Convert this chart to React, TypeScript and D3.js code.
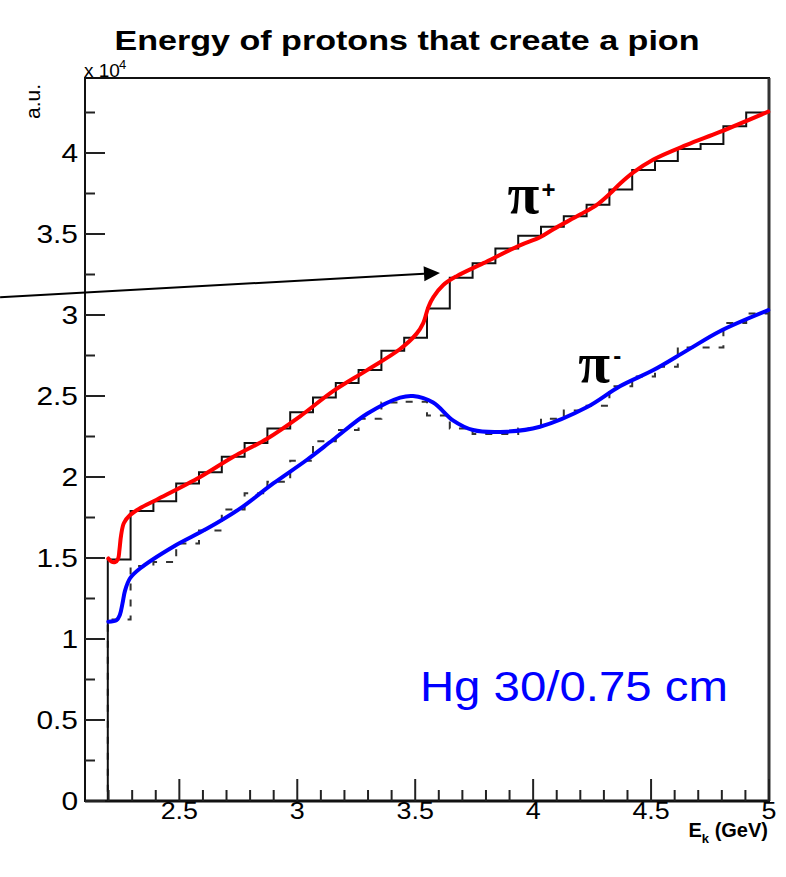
import React from "react";
import * as d3 from "d3";

// Histogram binning: 30 equal bins between 2.1 and 5.0 GeV
const histLow = 2.1;
const histHigh = 5.0;
const histBins = 30;

// Counts per bin (first bin is empty)
const piPlusCounts = [
  0, 14900, 17900, 18500, 19600, 20300, 21250, 22100, 23000, 24000,
  24900, 25800, 26600, 27800, 28600, 30400, 32300, 33200, 34100, 34900,
  35450, 36100, 36800, 37750, 38950, 39500, 40250, 40550, 41650, 42500,
];
const piMinusCounts = [
  0, 11200, 14500, 14750, 15900, 16700, 18000, 19000, 19700, 21000,
  22200, 22900, 23600, 24600, 24650, 23800, 23000, 22650, 22650, 23000,
  23600, 24100, 24400, 25600, 26200, 26800, 28000, 28000, 29500, 30100,
];

// Smooth fit curves (kinetic energy in GeV, counts)
const piPlusFitE = [
  2.199, 2.213, 2.227, 2.24, 2.246, 2.253, 2.265, 2.291, 2.333, 2.404,
  2.588, 2.729, 2.87, 3.012, 3.152, 3.296, 3.436, 3.506, 3.534, 3.556,
  3.577, 3.619, 3.676, 3.789, 3.944, 4.029, 4.086, 4.199, 4.27, 4.326,
  4.368, 4.425, 4.51, 4.651, 4.792, 4.997,
];
const piPlusFitCounts = [
  14970, 14770, 14750, 14940, 15500, 16400, 17160, 17650, 18070, 18600,
  20000, 21250, 22350, 23750, 25300, 26600, 27900, 28850, 29500, 30500,
  31100, 31850, 32400, 33200, 34300, 34800, 35300, 36200, 36800, 37500,
  38100, 38800, 39600, 40500, 41300, 42550,
];
const piMinusFitE = [
  2.199, 2.234, 2.248, 2.259, 2.27, 2.291, 2.333, 2.474, 2.616, 2.757,
  2.898, 3.04, 3.152, 3.296, 3.436, 3.491, 3.576, 3.66, 3.745, 3.889,
  4.029, 4.227, 4.368, 4.51, 4.651, 4.792, 4.997,
];
const piMinusFitCounts = [
  11070, 11170, 11500, 12200, 13000, 13750, 14350, 15700, 16800, 18050,
  19600, 21050, 22300, 23900, 24900, 25000, 24600, 23500, 22900, 22800,
  23100, 24300, 25600, 26600, 27800, 29000, 30300,
];

// Axis ticks
const xMajorTicks = [2.5, 3, 3.5, 4, 4.5, 5];
const xTickLabels = ["2.5", "3", "3.5", "4", "4.5", "5"];
const yMajorTicks = [0, 5000, 10000, 15000, 20000, 25000, 30000, 35000, 40000];
const yTickLabels = ["0", "0.5", "1", "1.5", "2", "2.5", "3", "3.5", "4"];

// Annotation anchors (data units)
const arrowFrom = [1.74, 31100];
const arrowTo = [3.605, 32600];

const W = 786;
const H = 877;
const frame = { left: 85, right: 769, top: 78, bottom: 801 };

const sans = "'Liberation Sans', Arial, Helvetica, sans-serif";
const serif = "'Liberation Serif', 'Times New Roman', serif";

export default function App() {
  const x = d3.scaleLinear().domain([histLow, histHigh]).range([frame.left, frame.right]);
  const y = d3.scaleLinear().domain([0, 44630]).range([frame.bottom, frame.top]);

  const edges = d3.range(histBins + 1).map((i) => histLow + (i * (histHigh - histLow)) / histBins);

  const stepPath = (counts: number[]) => {
    const pts: [number, number][] = counts.map((c, i) => [edges[i], c]);
    pts.push([edges[histBins], 0]);
    return d3
      .line<[number, number]>()
      .x((d) => x(d[0]))
      .y((d) => y(d[1]))
      .curve(d3.curveStepAfter)(pts) as string;
  };

  const fitPath = (es: number[], cs: number[]) =>
    d3
      .line<number>()
      .x((_, i) => x(es[i]))
      .y((d) => y(d))
      .curve(d3.curveCatmullRom.alpha(0.5))(cs) as string;

  const xMinor = d3
    .range(22, 50)
    .map((v) => v / 10)
    .filter((v) => !xMajorTicks.some((m) => Math.abs(m - v) < 1e-6));
  const yMinor = d3.range(2500, 44630, 5000);

  const ax = x(arrowFrom[0]);
  const ay = y(arrowFrom[1]);
  const bx = x(arrowTo[0]);
  const by = y(arrowTo[1]);
  const ang = Math.atan2(by - ay, bx - ax);
  const headLen = 16;
  const headHalf = 7.5;
  const hx = bx - headLen * Math.cos(ang);
  const hy = by - headLen * Math.sin(ang);
  const head = [
    [bx, by],
    [hx - headHalf * Math.sin(ang), hy + headHalf * Math.cos(ang)],
    [hx + headHalf * Math.sin(ang), hy - headHalf * Math.cos(ang)],
  ]
    .map((p) => p.join(","))
    .join(" ");

  const piPlusX = x(3.9);
  const piPlusY = y(36300);
  const piMinusX = x(4.2);
  const piMinusY = y(25860);

  return (
    <svg
      width={W}
      height={H}
      style={{ position: "absolute", left: 0, top: 0, display: "block", background: "#fff" }}
    >
      <rect x={0} y={0} width={W} height={H} fill="#fff" />

      {/* title */}
      <text
        x={407}
        y={50}
        textAnchor="middle"
        fontFamily={sans}
        fontWeight="bold"
        fontSize={28}
        textLength={585}
        lengthAdjust="spacingAndGlyphs"
      >
        Energy of protons that create a pion
      </text>

      {/* y axis scale factor */}
      <text x={84} y={77} fontFamily={sans} fontSize={19}>
        x 10
      </text>
      <text x={119} y={69} fontFamily={sans} fontSize={13}>
        4
      </text>

      {/* y axis title */}
      <text transform="translate(40,84) rotate(-90)" textAnchor="end" fontFamily={sans} fontSize={21}>
        a.u.
      </text>

      {/* histograms */}
      <path d={stepPath(piMinusCounts)} fill="none" stroke="#333" strokeWidth={2} strokeDasharray="7 9" />
      <path d={stepPath(piPlusCounts)} fill="none" stroke="#111" strokeWidth={2} />

      {/* frame */}
      <rect
        x={frame.left}
        y={frame.top}
        width={frame.right - frame.left}
        height={frame.bottom - frame.top}
        fill="none"
        stroke="#111"
        strokeWidth={2}
      />
      <line x1={frame.left} x2={frame.right + 1} y1={frame.bottom} y2={frame.bottom} stroke="#111" strokeWidth={3} />
      <line x1={frame.right} x2={frame.right} y1={frame.top} y2={frame.bottom} stroke="#333" strokeWidth={3} />

      {/* y ticks */}
      {yMajorTicks.map((t, i) => (
        <g key={"ym" + i}>
          <line x1={frame.left} x2={frame.left + 20} y1={y(t)} y2={y(t)} stroke="#222" strokeWidth={2} />
          <text
            transform={`translate(78,${y(t)}) scale(1.15,1)`}
            dy="0.36em"
            textAnchor="end"
            fontFamily={sans}
            fontSize={26}
          >
            {yTickLabels[i]}
          </text>
        </g>
      ))}
      {yMinor.map((t, i) => (
        <line key={"yn" + i} x1={frame.left} x2={frame.left + 10} y1={y(t)} y2={y(t)} stroke="#222" strokeWidth={2} />
      ))}

      {/* x ticks */}
      {xMajorTicks.map((t, i) => (
        <g key={"xm" + i}>
          <line x1={x(t)} x2={x(t)} y1={frame.bottom} y2={frame.bottom - 22} stroke="#222" strokeWidth={2} />
          <text
            transform={`translate(${x(t)},819) scale(1.12,1)`}
            textAnchor="middle"
            fontFamily={sans}
            fontSize={24}
          >
            {xTickLabels[i]}
          </text>
        </g>
      ))}
      {xMinor.map((t, i) => (
        <line key={"xn" + i} x1={x(t)} x2={x(t)} y1={frame.bottom} y2={frame.bottom - 11} stroke="#222" strokeWidth={2} />
      ))}

      {/* x axis title */}
      <text x={768} y={837} textAnchor="end" fontFamily={sans} fontWeight="bold" fontSize={20}>
        <tspan>E</tspan>
        <tspan fontSize={13} dy={6}>k</tspan>
        <tspan dy={-6}> (GeV)</tspan>
      </text>

      {/* fit curves */}
      <path d={fitPath(piMinusFitE, piMinusFitCounts)} fill="none" stroke="#0000ff" strokeWidth={4} strokeLinecap="round" />
      <path d={fitPath(piPlusFitE, piPlusFitCounts)} fill="none" stroke="#ff0000" strokeWidth={4} strokeLinecap="round" />

      {/* arrow */}
      <line x1={ax} y1={ay} x2={hx} y2={hy} stroke="#000" strokeWidth={2} />
      <polygon points={head} fill="#000" />

      {/* curve labels */}
      <text x={piPlusX - 2} y={piPlusY} fontFamily={serif} fontWeight="bold" fontSize={58}>
        π
      </text>
      <text x={piPlusX + 32} y={piPlusY - 15} fontFamily={sans} fontWeight="bold" fontSize={24}>
        +
      </text>
      <text x={piMinusX - 2} y={piMinusY} fontFamily={serif} fontWeight="bold" fontSize={58}>
        π
      </text>
      <text x={piMinusX + 33} y={piMinusY - 18} fontFamily={sans} fontWeight="bold" fontSize={24}>
        -
      </text>

      <text
        x={x(3.52)}
        y={y(6150)}
        fontFamily={sans}
        fontSize={43}
        fill="#0000ff"
        textLength={308}
        lengthAdjust="spacingAndGlyphs"
      >
        Hg 30/0.75 cm
      </text>
    </svg>
  );
}
